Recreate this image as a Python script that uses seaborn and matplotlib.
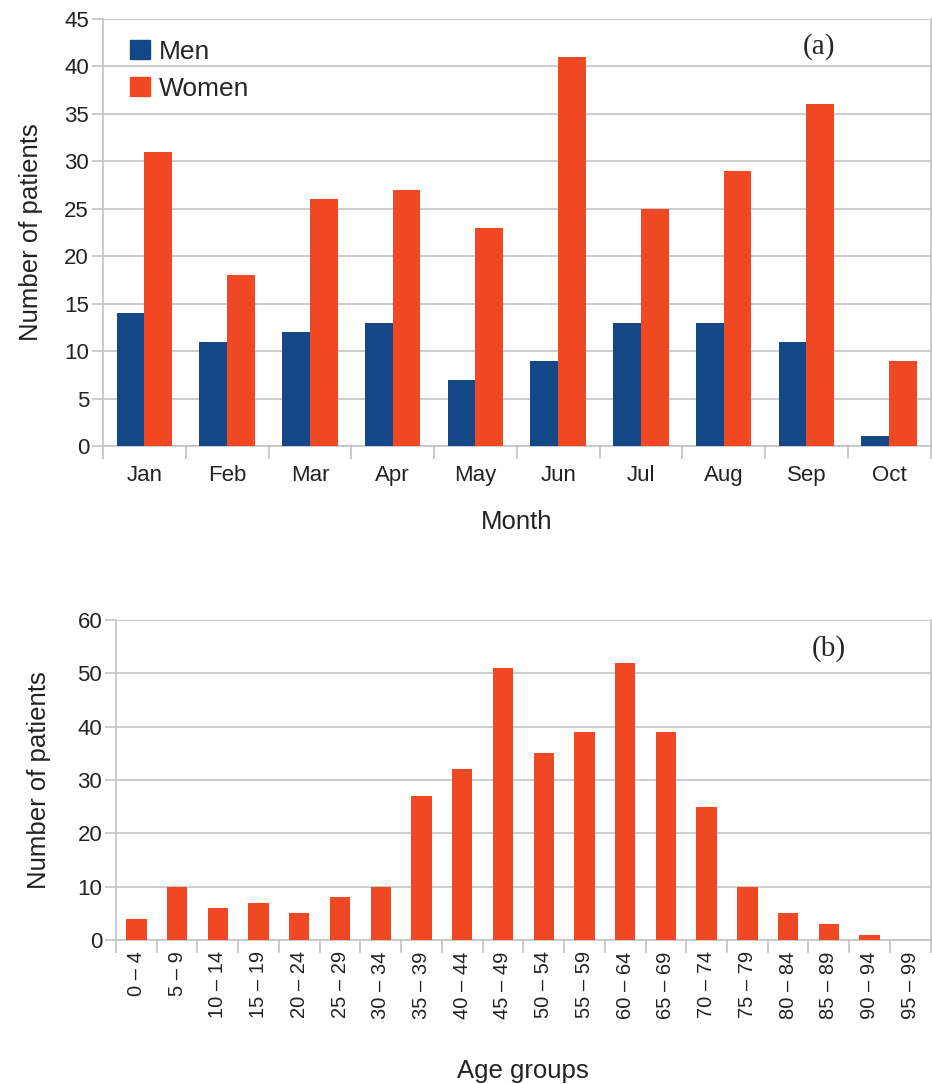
import numpy as np
import pandas as pd
import seaborn as sns
import matplotlib.pyplot as plt
from matplotlib.patches import Patch

# dados do grafico (a)
months = ['Jan', 'Feb', 'Mar', 'Apr', 'May', 'Jun', 'Jul', 'Aug', 'Sep', 'Oct']
men = [14, 11, 12, 13, 7, 9, 13, 13, 11, 1]
women = [31, 18, 26, 27, 23, 41, 25, 29, 36, 9]

# dados do grafico (b)
age_groups = ['0 – 4', '5 – 9', '10 – 14', '15 – 19', '20 – 24', '25 – 29', '30 – 34',
              '35 – 39', '40 – 44', '45 – 49', '50 – 54', '55 – 59', '60 – 64', '65 – 69',
              '70 – 74', '75 – 79', '80 – 84', '85 – 89', '90 – 94', '95 – 99']
age_counts = [4, 10, 6, 7, 5, 8, 10, 27, 32, 51, 35, 39, 52, 39, 25, 10, 5, 3, 1, 0]

blue = '#134785'
red = '#EF4823'
grid_c = '#C4C4C8'
txt_c = '#222222'

sns.set_style('white')
plt.rcParams['font.family'] = ['Liberation Sans', 'DejaVu Sans']

fig = plt.figure(figsize=(9.32, 10.84), dpi=100)
ax1 = fig.add_axes([0.1105, 0.5886, 0.8880, 0.3939])
ax2 = fig.add_axes([0.1245, 0.1328, 0.8740, 0.2952])

df = pd.DataFrame({'Month': months * 2,
                   'Count': men + women,
                   'Sex': ['Men'] * len(months) + ['Women'] * len(months)})
sns.barplot(data=df, x='Month', y='Count', hue='Sex', palette=[blue, red],
            width=0.67, saturation=1, linewidth=0, ax=ax1, legend=False, zorder=3)

df2 = pd.DataFrame({'Age': age_groups, 'Count': age_counts})
sns.barplot(data=df2, x='Age', y='Count', color=red, width=0.5,
            saturation=1, linewidth=0, ax=ax2, zorder=3)


def style(ax, ymax, step, n):
    ax.set_ylim(0, ymax)
    ax.set_xlim(-0.5, n - 0.5)
    ax.set_yticks(np.arange(0, ymax + 1, step))
    ax.yaxis.grid(True, color=grid_c, lw=1.2, zorder=0)
    ax.set_axisbelow(True)
    for s in ['left', 'bottom', 'right', 'top']:
        ax.spines[s].set_color(grid_c)
        ax.spines[s].set_linewidth(1.2)
    ax.spines['top'].set_visible(False)
    ax.tick_params(axis='y', length=8, width=1.2, color=grid_c, labelsize=16,
                   labelcolor=txt_c, pad=2, left=True)
    # ticks do eixo x entre as categorias
    ax.set_xticks(np.arange(-0.5, n, 1), minor=True)
    ax.tick_params(axis='x', which='minor', length=9, width=1.2, color=grid_c, bottom=True)
    ax.tick_params(axis='x', which='major', length=0, labelsize=16,
                   labelcolor=txt_c)


style(ax1, 45, 5, len(months))
ax1.tick_params(axis='x', which='major', pad=14)
ax1.set_xlabel('Month', fontsize=18.5, labelpad=17, color=txt_c)
ax1.set_ylabel('Number of patients', fontsize=18.5, labelpad=15, color=txt_c)
ax1.legend(handles=[Patch(color=blue, label='Men'), Patch(color=red, label='Women')],
           loc='upper left', bbox_to_anchor=(0.004, 1.007), frameon=False,
           fontsize=19, handlelength=0.75, handleheight=0.75, handletextpad=0.35,
           labelspacing=0.5)
ax1.text(0.865, 0.935, '(a)', transform=ax1.transAxes, fontsize=21,
         family='Liberation Serif', ha='center', va='center')

style(ax2, 60, 10, len(age_groups))
ax2.tick_params(axis='x', which='major', pad=8, rotation=90, labelsize=14.5)
ax2.set_xlabel('Age groups', fontsize=18.5, labelpad=29, color=txt_c)
ax2.set_ylabel('Number of patients', fontsize=18.5, labelpad=19, color=txt_c)
ax2.text(0.875, 0.91, '(b)', transform=ax2.transAxes, fontsize=21,
         family='Liberation Serif', ha='center', va='center')

plt.savefig('out.png', dpi=100)
